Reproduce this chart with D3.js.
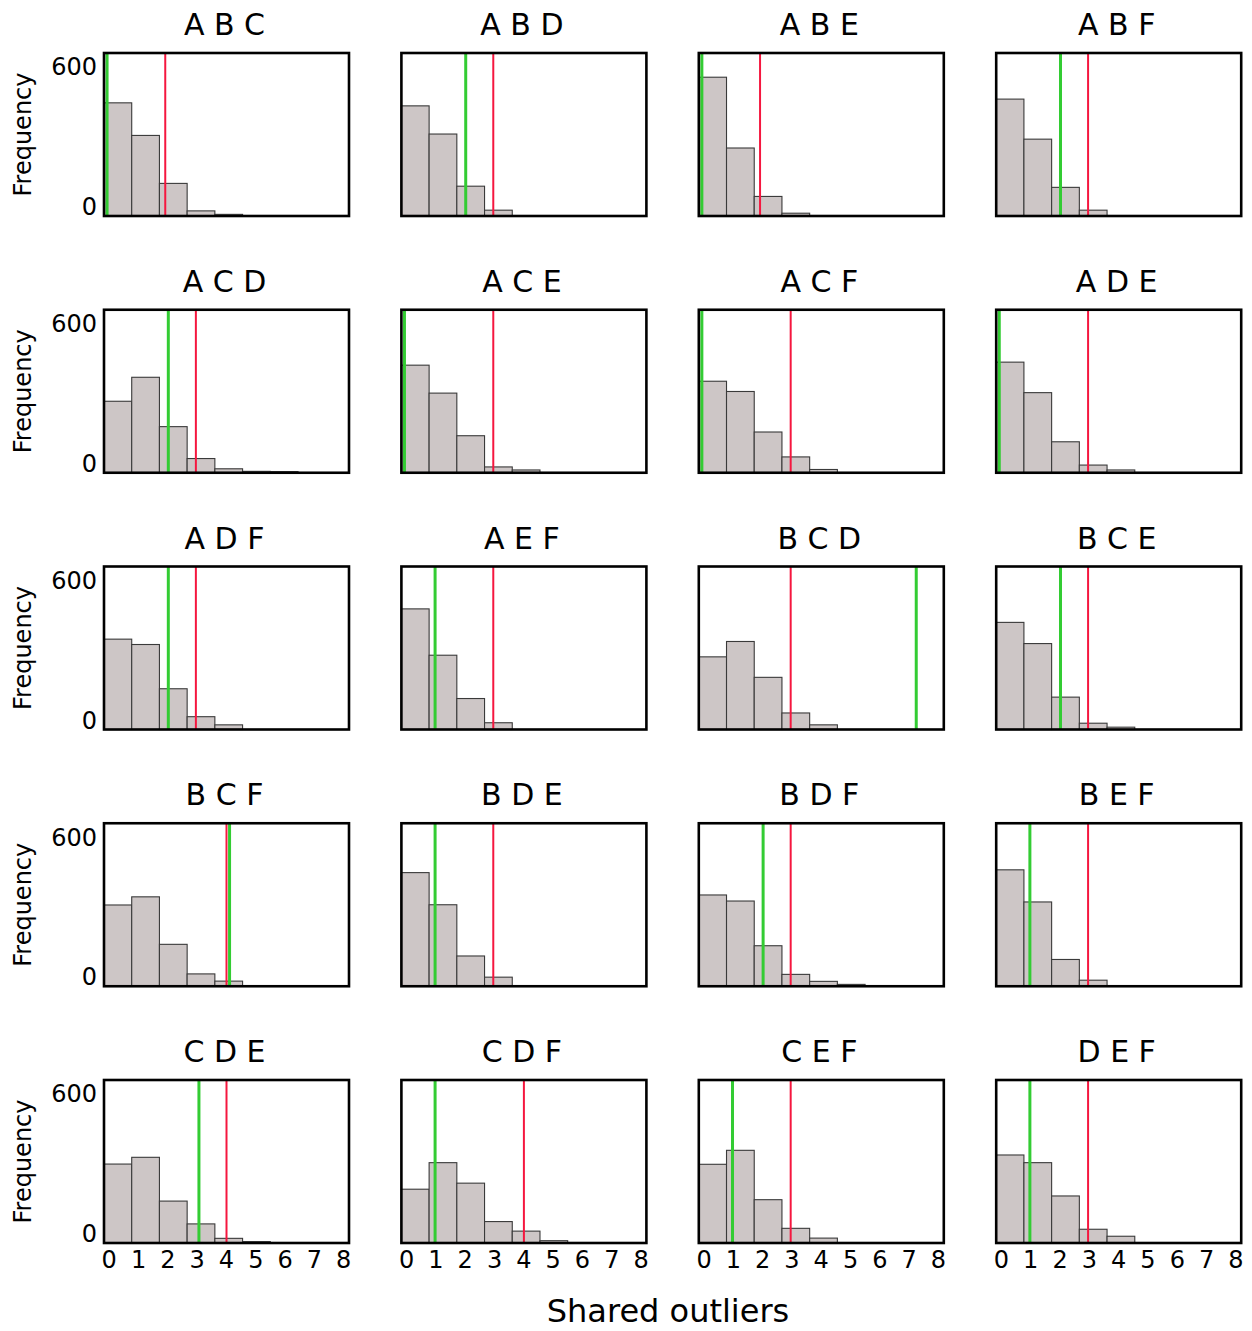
<!DOCTYPE html>
<html>
<head>
<meta charset="utf-8">
<script src="https://cdn.jsdelivr.net/npm/d3@7/dist/d3.min.js"></script>
<style>
  html, body { margin: 0; padding: 0; background: #fff; }
  svg { display: block; font-family: "DejaVu Sans", sans-serif; }
</style>
</head>
<body>
<svg id="chart" width="1252" height="1331"></svg>
<script>
// Triplet labels, one panel each (row-major, 4 columns)
const combos = [
  "A B C", "A B D", "A B E", "A B F",
  "A C D", "A C E", "A C F", "A D E",
  "A D F", "A E F", "B C D", "B C E",
  "B C F", "B D E", "B D F", "B E F",
  "C D E", "C D F", "C E F", "D E F"
];

// Histogram counts per bin for each triplet (null permutations)
const counts = [
  [486, 346, 140, 22, 7],
  [473, 352, 128, 25],
  [596, 292, 84, 12],
  [502, 330, 123, 25],
  [307, 410, 198, 61, 17, 6, 5],
  [462, 342, 159, 25, 12],
  [393, 349, 175, 68, 14],
  [475, 344, 133, 33, 12],
  [388, 365, 175, 55, 20],
  [518, 319, 133, 29],
  [312, 378, 224, 71, 20],
  [460, 369, 139, 27, 10],
  [349, 384, 180, 53, 22],
  [488, 350, 130, 39],
  [392, 366, 174, 51, 21, 8],
  [500, 362, 115, 26],
  [339, 368, 180, 82, 20, 6],
  [231, 345, 257, 92, 51, 10],
  [338, 398, 186, 63, 21],
  [378, 345, 202, 59, 29]
];

// Observed number of shared outliers (green) and threshold (red)
const observed = [
  0.1, 2.1, 0.1, 2.1,
  2.1, 0.1, 0.1, 0.1,
  2.1, 1.1, 7.1, 2.1,
  4.1, 1.1, 2.1, 1.1,
  3.1, 1.1, 1.1, 1.1
];
const threshold = [
  2, 3, 2, 3,
  3, 3, 3, 3,
  3, 3, 3, 3,
  4, 3, 3, 3,
  4, 4, 3, 3
];

// Histogram bin edges (in shared-outlier units)
const binEdges = [0, 0.905, 1.81, 2.715, 3.62, 4.525, 5.43, 6.335, 7.24, 8.145];

// Axis labelling
const xTickLabels = [0, 1, 2, 3, 4, 5, 6, 7, 8];
const yTickValues = [0, 600];
const yLabel = "Frequency";
const xLabel = "Shared outliers";

// ---- layout ----
const nCols = 4;
const frameW = 245, frameH = 163;
const left0 = 104, top0 = 53;
const stepX = 297.4, stepY = 256.75;
const nRows = Math.ceil(combos.length / nCols);

const svg = d3.select("#chart");
svg.append("rect").attr("width", 1252).attr("height", 1331).attr("fill", "#fff");

const x = d3.scaleLinear().domain([0, 8]).range([0, frameW]);
const y = d3.scaleLinear().domain([0, 700]).range([frameH, 0]);
// tick labels sit on a slightly inset scale
const xTick = d3.scaleLinear().domain([0, 8]).range([x(0.155), x(7.81)]);

combos.forEach((name, idx) => {
  const col = idx % nCols, row = Math.floor(idx / nCols);
  const g = svg.append("g")
    .attr("transform", `translate(${left0 + col * stepX},${top0 + row * stepY})`);

  // panel title
  g.append("text")
    .attr("x", frameW / 2 - 2)
    .attr("y", -18)
    .attr("text-anchor", "middle")
    .attr("font-size", 30)
    .attr("fill", "#000")
    .text(name);

  // histogram bars
  const bins = counts[idx].map((c, i) => ({ x0: binEdges[i], x1: binEdges[i + 1], c }))
    .filter(d => d.c > 0);
  g.selectAll("rect.bar").data(bins).enter().append("rect")
    .attr("class", "bar")
    .attr("x", d => x(d.x0))
    .attr("width", d => x(d.x1) - x(d.x0))
    .attr("y", d => y(d.c))
    .attr("height", d => y(0) - y(d.c))
    .attr("fill", "#cdc6c6")
    .attr("stroke", "#3a3a3a")
    .attr("stroke-width", 1.1);

  // threshold line (red) and observed line (green)
  g.append("line")
    .attr("x1", x(threshold[idx])).attr("x2", x(threshold[idx]))
    .attr("y1", 0).attr("y2", frameH)
    .attr("stroke", "#f5173f").attr("stroke-width", 2);
  g.append("line")
    .attr("x1", x(observed[idx])).attr("x2", x(observed[idx]))
    .attr("y1", 0).attr("y2", frameH)
    .attr("stroke", "#33cc33").attr("stroke-width", 3);

  // frame
  g.append("rect")
    .attr("x", 0).attr("y", 0)
    .attr("width", frameW).attr("height", frameH)
    .attr("fill", "none")
    .attr("stroke", "#000")
    .attr("stroke-width", 2.6);

  // y axis labels on the first column
  if (col === 0) {
    const ya = g.append("g")
      .call(d3.axisLeft(y).tickValues(yTickValues).tickSize(0).tickPadding(7));
    ya.select(".domain").remove();
    ya.selectAll("text")
      .attr("font-size", 24)
      .attr("font-family", "DejaVu Sans, sans-serif")
      .attr("fill", "#000")
      .attr("dy", "-0.06em")
      .attr("dominant-baseline", "auto");
    g.append("text")
      .attr("transform", `translate(${31 - left0},${frameH / 2}) rotate(-90)`)
      .attr("text-anchor", "middle")
      .attr("font-size", 24)
      .attr("fill", "#000")
      .text(yLabel);
  }

  // x tick labels on the bottom row
  if (row === nRows - 1) {
    const xa = g.append("g")
      .attr("transform", `translate(0,${frameH})`)
      .call(d3.axisBottom(xTick).tickValues(xTickLabels).tickFormat(d3.format("d")).tickSize(0).tickPadding(8));
    xa.select(".domain").remove();
    xa.selectAll("text")
      .attr("font-size", 24)
      .attr("font-family", "DejaVu Sans, sans-serif")
      .attr("fill", "#000");
  }
});

// shared x-axis title
svg.append("text")
  .attr("x", 668)
  .attr("y", 1322)
  .attr("text-anchor", "middle")
  .attr("font-size", 32)
  .attr("fill", "#000")
  .text(xLabel);
</script>
</body>
</html>
